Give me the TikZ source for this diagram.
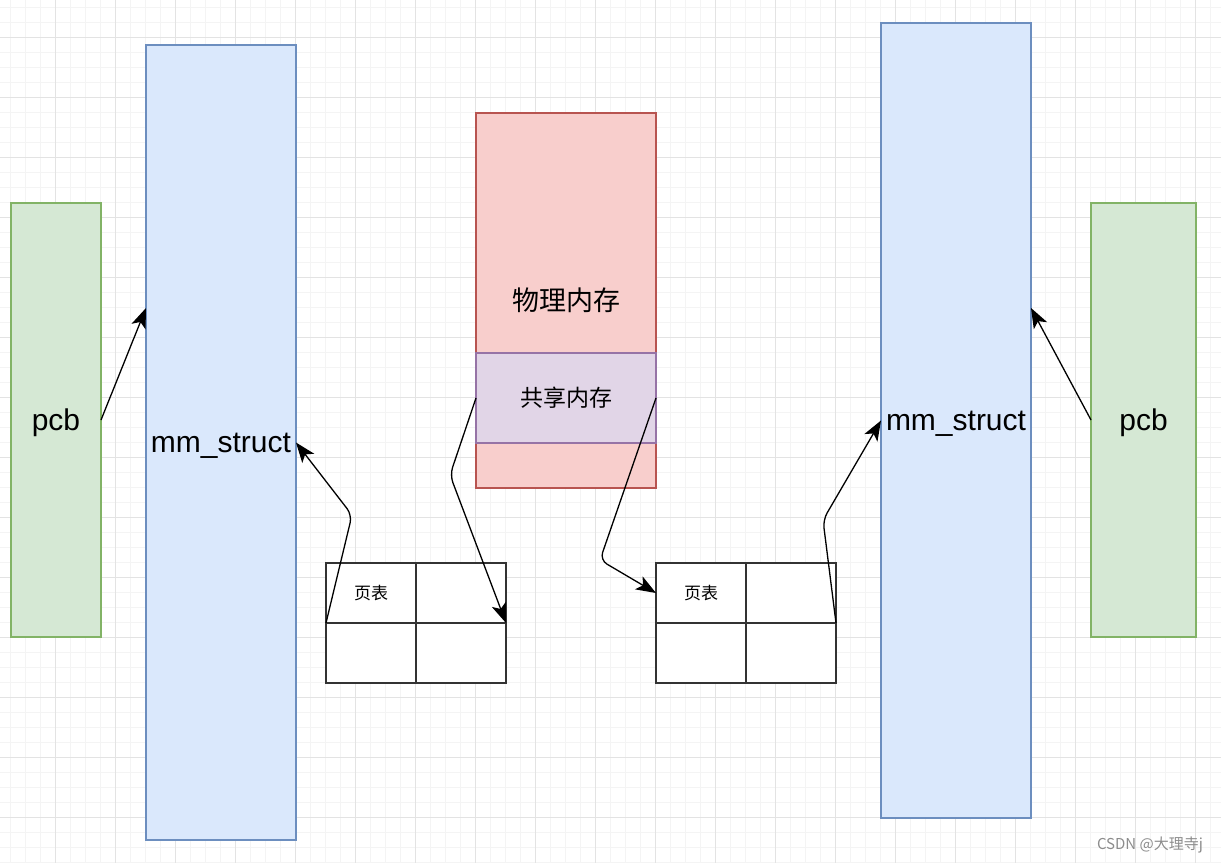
\documentclass[tikz,border=0pt]{standalone}
\usepackage{fontspec}
\setmainfont{Liberation Sans}
\newfontfamily\cjk{Noto Sans CJK SC}
\usetikzlibrary{arrows.meta}

\definecolor{gridminor}{HTML}{F4F4F4}
\definecolor{gridmajor}{HTML}{E3E3E3}
\definecolor{pcbfill}{HTML}{D5E8D4}
\definecolor{pcbline}{HTML}{82B366}
\definecolor{mmfill}{HTML}{DAE8FC}
\definecolor{mmline}{HTML}{6C8EBF}
\definecolor{memfill}{HTML}{F8CECC}
\definecolor{memline}{HTML}{B85450}
\definecolor{shmfill}{HTML}{E1D5E7}
\definecolor{shmline}{HTML}{9673A6}

\tikzset{
	box/.style={draw, line width=1.3pt, inner sep=0pt, outer sep=0pt},
	pcbbox/.style={box, fill=pcbfill, draw=pcbline, minimum width=90pt, minimum height=434pt,
		font=\fontsize{30}{34}\selectfont, text depth=0pt},
	mmbox/.style={box, fill=mmfill, draw=mmline, minimum width=150pt, minimum height=795pt,
		font=\fontsize{30}{34}\selectfont, text depth=0pt},
	cell/.style={box, draw=black!80, fill=white, minimum width=90pt, minimum height=60pt,
		font=\cjk\fontsize{17}{20}\selectfont},
	link/.style={line width=1.3pt, -{Stealth[length=20pt, width=15pt, inset=5pt]}},
}

\begin{document}
\begin{tikzpicture}[x=1pt, y=-1pt]
	\useasboundingbox (0,0) rectangle (1221,863);
	\fill[white] (0,0) rectangle (1221,863);

	% grid
	\foreach \x in {10,25,...,1220} \draw[gridminor, line width=0.8pt] (\x,0) -- (\x,863);
	\foreach \y in {7,22,...,862} \draw[gridminor, line width=0.8pt] (0,\y) -- (1221,\y);
	\foreach \x in {55,115,...,1220} \draw[gridmajor, line width=1pt] (\x,0) -- (\x,863);
	\foreach \y in {37,97,...,862} \draw[gridmajor, line width=1pt] (0,\y) -- (1221,\y);

	% processes
	\node[pcbbox] (pcbL) at (56,420) {pcb};
	\node[mmbox] (mmL) at (221,442.5) {mm\_struct};
	\node[mmbox] (mmR) at (956,420.5) {mm\_struct};
	\node[pcbbox, minimum width=105pt] (pcbR) at (1143.5,420) {pcb};

	% physical memory
	\node[box, fill=memfill, draw=memline, minimum width=180pt, minimum height=375pt] (phys) at (566,300.5) {};
	\node[font=\cjk\fontsize{27}{32}\selectfont] (physlbl) at (566,300) {物理内存};
	\node[box, fill=shmfill, draw=shmline, minimum width=180pt, minimum height=90pt,
		font=\cjk\fontsize{23}{28}\selectfont] (shm) at (566,398) {共享内存};

	% page tables
	\node[cell] (ptLa) at (371,593) {页表};
	\node[cell] (ptLb) at (461,593) {};
	\node[cell] (ptLc) at (371,653) {};
	\node[cell] (ptLd) at (461,653) {};
	\node[cell] (ptRa) at (701,593) {页表};
	\node[cell] (ptRb) at (791,593) {};
	\node[cell] (ptRc) at (701,653) {};
	\node[cell] (ptRd) at (791,653) {};

	% links
	\draw[link] (pcbL.east) -- ([yshift=134.5pt]mmL.west);
	\draw[link] (ptLa.south west) [rounded corners=8pt] -- (352,515) -- (mmL.east);
	\draw[link] (shm.west) [rounded corners=8pt] -- (450,475) -- (ptLb.south east);
	\draw[link] (shm.east) [rounded corners=8pt] -- (600,560) -- (ptRa.west);
	\draw[link] (ptRb.south east) [rounded corners=8pt] -- (823,520) -- (mmR.west);
	\draw[link] (pcbR.west) -- ([yshift=112.5pt]mmR.east);

	\node[text=black!45, font=\cjk\fontsize{15}{17}\selectfont] (mark) at (1150,845) {CSDN @大理寺j};
\end{tikzpicture}
\end{document}
